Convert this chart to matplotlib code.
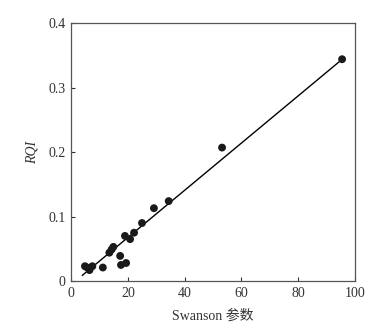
import numpy as np
import matplotlib.pyplot as plt
from matplotlib.ticker import FuncFormatter

# Swanson parameter vs RQI
swanson = [4.9, 5.7, 6.5, 7.5, 11.2, 13.5, 14.3, 14.9, 17.3, 17.6, 19.4,
           19.0, 20.8, 22.2, 25.0, 29.2, 34.4, 53.2, 95.5]
rqi = [0.023, 0.021, 0.017, 0.023, 0.021, 0.044, 0.049, 0.053, 0.039, 0.025, 0.028,
       0.070, 0.065, 0.075, 0.090, 0.113, 0.124, 0.207, 0.344]

# fitted line
slope = 0.00366
intercept = -0.0057
fit_x = np.array([4.0, 95.5])

serif = ['Liberation Serif', 'Noto Sans CJK SC']

fig = plt.figure(figsize=(3.82, 3.35), dpi=100)
ax = fig.add_axes([0.186, 0.161, 0.743, 0.770])

ax.plot(fit_x, slope * fit_x + intercept, color='black', lw=1.0)
ax.scatter(swanson, rqi, s=32, color='#1a1a1a', zorder=3, edgecolors='none')

ax.set_xlim(0, 100)
ax.set_ylim(0, 0.4)
ax.set_xticks([0, 20, 40, 60, 80, 100])
ax.set_yticks([0, 0.1, 0.2, 0.3, 0.4])
ax.yaxis.set_major_formatter(FuncFormatter(lambda v, p: '0' if v == 0 else f'{v:.1f}'))
ax.tick_params(direction='in', length=3, width=0.8, labelsize=10, colors='#333333', pad=4)
for lab in ax.get_xticklabels() + ax.get_yticklabels():
    lab.set_family(serif)
for s in ax.spines.values():
    s.set_color('#555555')
    s.set_linewidth(0.9)

ax.set_xlabel('Swanson 参数', family=serif, fontsize=10, color='#333333', labelpad=7)
ax.set_ylabel('RQI', family=serif, fontsize=10, style='italic', color='#333333', labelpad=7)

fig.savefig('out.png', dpi=100)
